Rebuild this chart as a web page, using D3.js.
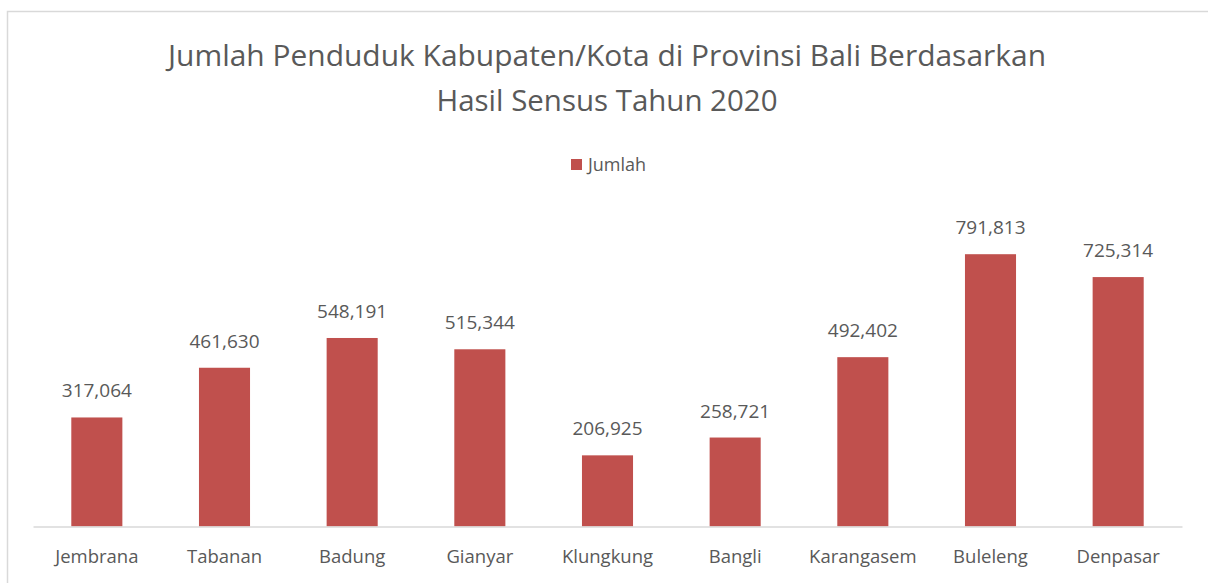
<!DOCTYPE html>
<html lang="id">
<head>
<meta charset="UTF-8">
<title>Jumlah Penduduk Bali 2020</title>
<script src="https://d3js.org/d3.v7.min.js"></script>
<style>
body, html {
	margin: 0;
	padding: 0;
	background: #fff;
}
text {
	font-family: "Open Sans", "Noto Sans", sans-serif;
	fill: #595959;
}
.title { font-size: 29px; text-anchor: middle; }
.bar { fill: #C0504D; }
.value-label { font-size: 19px; text-anchor: middle; }
.axis path { stroke: #D9D9D9; stroke-width: 1.5px; }
.axis .tick line { visibility: hidden; }
.axis text { font-size: 18.5px; }
.legend-text { font-size: 18px; }
</style>
</head>
<body>
<script>
// data
var kabupaten = ["Jembrana", "Tabanan", "Badung", "Gianyar", "Klungkung", "Bangli", "Karangasem", "Buleleng", "Denpasar"];
var jumlah = [317064, 461630, 548191, 515344, 206925, 258721, 492402, 791813, 725314];
var seriesName = "Jumlah";
var titleLines = ["Jumlah Penduduk Kabupaten/Kota di Provinsi Bali Berdasarkan", "Hasil Sensus Tahun 2020"];

var w = 1208, h = 583;
var margin = {top: 217, bottom: 56.5, left: 33, right: 26};

var svg = d3.select("body").append("svg")
	.attr("width", w)
	.attr("height", h);

// chart frame
svg.append("rect")
	.attr("x", 7.5).attr("y", 11.5)
	.attr("width", 1400).attr("height", 800)
	.style("fill", "none")
	.style("stroke", "#D9D9D9")
	.style("stroke-width", 1.5);

var x = d3.scaleBand()
	.domain(kabupaten)
	.range([margin.left, w - margin.right])
	.paddingInner(0.6)
	.paddingOuter(0.3);

var y = d3.scaleLinear()
	.domain([0, 900000])
	.range([h - margin.bottom, margin.top]);

// title
svg.selectAll(".title")
	.data(titleLines)
	.enter().append("text")
	.attr("class", "title")
	.attr("x", 607)
	.attr("y", function(d, i) { return 66 + i * 45; })
	.attr("textLength", function(d, i) { return i == 0 ? 878 : 341; })
	.attr("lengthAdjust", "spacingAndGlyphs")
	.text(function(d) { return d; });

// legend
var legend = svg.append("g").attr("transform", "translate(571,159)");
legend.append("rect").attr("width", 11).attr("height", 11).style("fill", "#C0504D");
legend.append("text").attr("class", "legend-text").attr("x", 17).attr("y", 12).text(seriesName);

// bars
svg.selectAll(".bar")
	.data(jumlah)
	.enter().append("rect")
	.attr("class", "bar")
	.attr("x", function(d, i) { return x(kabupaten[i]); })
	.attr("width", x.bandwidth())
	.attr("y", function(d) { return y(d); })
	.attr("height", function(d) { return y(0) - y(d); });

// value labels
var fmt = d3.format(",");
svg.selectAll(".value-label")
	.data(jumlah)
	.enter().append("text")
	.attr("class", "value-label")
	.attr("x", function(d, i) { return x(kabupaten[i]) + x.bandwidth() / 2; })
	.attr("y", function(d) { return y(d) - 20; })
	.text(function(d) { return fmt(d); });

// axis
var xAxis = d3.axisBottom(x).tickSize(0).tickSizeOuter(0).tickPadding(23);
svg.append("g")
	.attr("class", "axis")
	.attr("transform", "translate(0," + y(0) + ")")
	.call(xAxis)
	.selectAll("text")
	.style("font-family", "\"Open Sans\", sans-serif")
	.style("fill", "#595959");
</script>
</body>
</html>
